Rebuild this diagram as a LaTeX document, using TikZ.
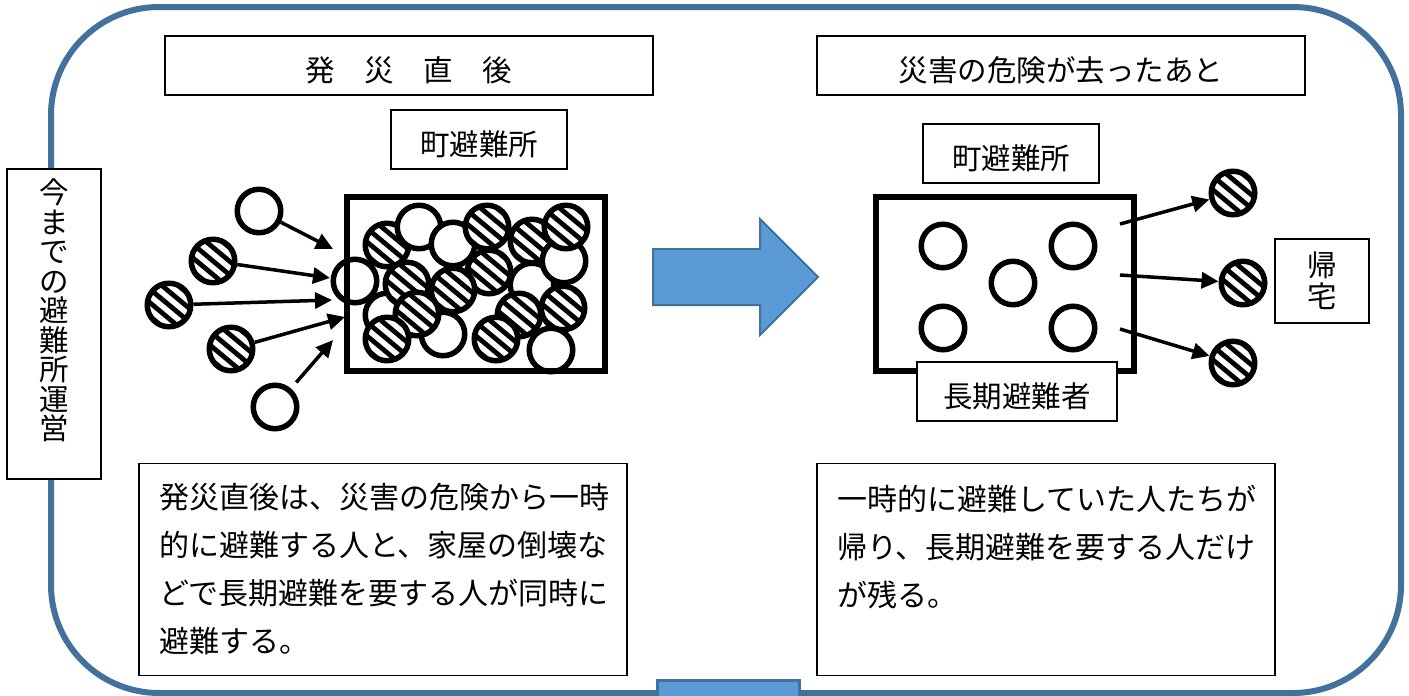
\documentclass[tikz,border=0pt]{standalone}
\usepackage{fontspec}
\setmainfont{Noto Sans CJK JP}
\usetikzlibrary{arrows.meta}
\definecolor{outl}{HTML}{41719C}
\definecolor{fillb}{HTML}{5B9BD5}
\newcommand{\lowtxt}[1]{\raisebox{-5pt}[26pt][4pt]{#1}}
\tikzset{
  lab/.style={draw=black,line width=1.3pt,fill=white,inner sep=0pt,align=center,font=\fontsize{29.5}{36}\selectfont},
  body/.style={draw=black,line width=1.3pt,fill=white,inner ysep=0pt,inner xsep=20pt,align=left,font=\fontsize{30}{48}\selectfont},
  wc/.style={circle,draw=black,line width=5.5pt,minimum size=43.5pt,inner sep=0pt},
  wf/.style={wc,fill=white},
  hc/.style={wf,path picture={
    \foreach \d in {-48.9,-32.6,-16.3,0,16.3,32.6,48.9}
      \draw[line width=4.8pt] ([xshift=\d pt-30pt,yshift=25pt]path picture bounding box.center) -- ([xshift=\d pt+30pt,yshift=-25pt]path picture bounding box.center);
  }},
  flow/.style={line width=3.5pt,-{Triangle[length=17pt,width=16pt]}},
  hall/.style={draw=black,line width=6pt}
}
\begin{document}
\begin{tikzpicture}[x=1pt,y=-1pt]
\useasboundingbox (0,0) rectangle (1409,696);
\fill[white] (0,0) rectangle (1409,696);
\draw[outl,line width=6pt,rounded corners=108pt] (51,7) rectangle (1401,693);
\path[fill=fillb,draw=outl,line width=3pt] (657,699) -- (657,680) -- (799,680) -- (799,699);
% block arrow
\path[fill=fillb,draw=outl,line width=2pt] (653,249) -- (760,249) -- (760,219) -- (818,277) -- (760,335) -- (760,305) -- (653,305) -- cycle;
% labels
\node[lab,minimum width=488pt,minimum height=59pt] (t1) at (409,65.5) {\lowtxt{発\hspace{1em}災\hspace{1em}直\hspace{1em}後}};
\node[lab,minimum width=488pt,minimum height=59pt] (t2) at (1061,65.5) {\lowtxt{災害の危険が去ったあと}};
\node[lab,minimum width=176pt,minimum height=59pt] (s1) at (479,139.5) {\lowtxt{町避難所}};
\node[lab,minimum width=176pt,minimum height=59pt] (s2) at (1011,153.5) {\lowtxt{町避難所}};
\node[lab,minimum width=94pt,minimum height=84pt,font=\fontsize{29.5}{31}\selectfont] (home) at (1322,281) {帰\\宅};
\node[lab,minimum width=94pt,minimum height=310pt,font=\fontsize{29.5}{29.5}\selectfont] (old) at (54,324) {今\\ま\\で\\の\\避\\難\\所\\運\\営\\\mbox{}};
\node[body,minimum width=488pt,minimum height=212pt,text width=448pt] (b1) at (383,569.5) {発災直後は、災害の危険から一時\\的に避難する人と、家屋の倒壊な\\どで長期避難を要する人が同時に\\避難する。};
\node[body,minimum width=458pt,minimum height=212pt,text width=418pt] (b2) at (1046,569.5) {一時的に避難していた人たちが\\帰り、長期避難を要する人だけ\\が残る。\\\mbox{}};
% left group
\node[wf] (a1) at (259,211) {};
\node[hc] (a2) at (213,261) {};
\node[hc] (a3) at (169,305) {};
\node[hc] (a4) at (231,349) {};
\node[wf] (a5) at (275,407) {};
\node[wc] (a6) at (355,281) {};
\node[hc] (c1) at (387,245) {};
\node[wf] (c2) at (419,227) {};
\node[wf] (c3) at (453,244) {};
\node[hc] (c4) at (487,227) {};
\node[hc] (c5) at (532,241) {};
\node[wf] (c6) at (532,285) {};
\node[wf] (c7) at (564,261) {};
\node[hc] (c8) at (566,227) {};
\node[wf] (c9) at (387,315) {};
\node[hc] (c10) at (407,284) {};
\node[hc] (c11) at (489,272) {};
\node[hc] (c12) at (453,290) {};
\node[wf] (c13) at (443,334) {};
\node[hc] (c14) at (417,314) {};
\node[hc] (c15) at (387,339) {};
\node[hc] (c16) at (563,308) {};
\node[hc] (c17) at (519,315) {};
\node[hc] (c18) at (496,339) {};
\node[wf] (c19) at (551,350) {};
\node[hall,minimum width=258pt,minimum height=174pt,inner sep=0pt] (hallA) at (476,284) {};
\coordinate (e1) at (333,249);
\coordinate (e2) at (330,278);
\coordinate (e3) at (332,300);
\coordinate (e4) at (345,317);
\coordinate (e5) at (333,340);
\draw[flow] (a1) -- (e1);
\draw[flow] (a2) -- (e2);
\draw[flow] (a3) -- (e3);
\draw[flow] (a4) -- (e4);
\draw[flow,shorten <=8pt] (a5) -- (e5);
% right group
\node[hall,minimum width=258pt,minimum height=174pt,inner sep=0pt] (hallB) at (1004.5,284) {};
\node[lab,minimum width=200pt,minimum height=59pt] (long) at (1017,391.5) {\lowtxt{長期避難者}};
\node[wc] (d1) at (943,246) {};
\node[wc] (d2) at (1073,246) {};
\node[wc] (d3) at (1013,283) {};
\node[wc] (d4) at (943,328) {};
\node[wc] (d5) at (1073,328) {};
\node[hc] (h1) at (1233,193) {};
\node[hc] (h2) at (1243,283) {};
\node[hc] (h3) at (1233,363) {};
\coordinate (f1) at (1120,224);
\coordinate (f2) at (1120,275);
\coordinate (f3) at (1120,329);
\draw[flow] (f1) -- (h1);
\draw[flow] (f2) -- (h2);
\draw[flow] (f3) -- (h3);
\end{tikzpicture}
\end{document}
